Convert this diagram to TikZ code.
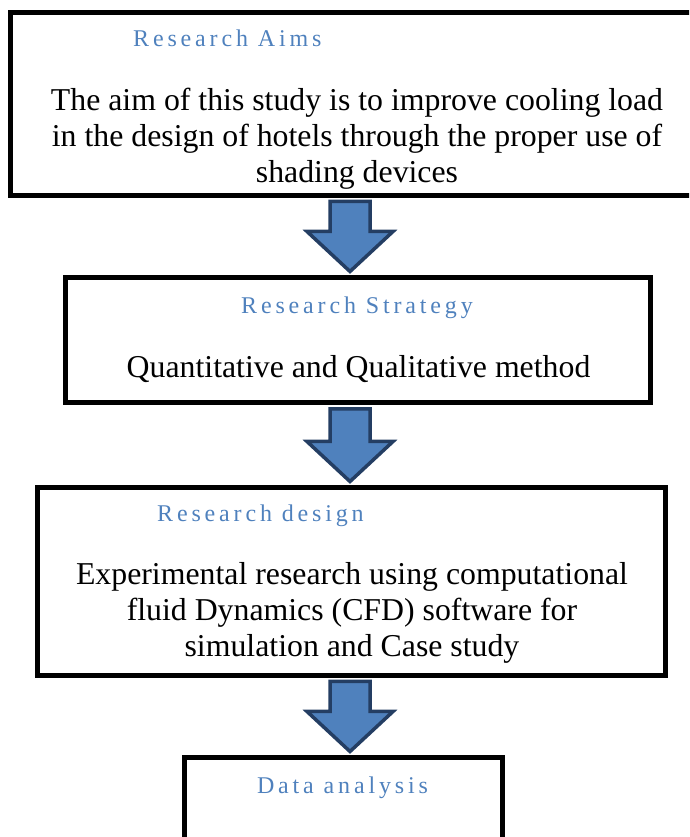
\documentclass[tikz,border=0pt]{standalone}
\usepackage{fontspec}
\setmainfont{Liberation Serif}
\usetikzlibrary{positioning, calc}
\definecolor{headblue}{RGB}{79,129,189}
\definecolor{arrowfill}{RGB}{79,129,189}
\definecolor{arrowedge}{RGB}{36,62,99}

% block arrow from the bottom of one box to the top of the next
\newcommand{\flowarrow}[2]{%
  \draw[blockarrow] let \p1=(#1.south), \p2=(#2.north) in
    (330,\y1-6) -- (370,\y1-6) -- (370,\y2+46) -- (393,\y2+46)
    -- (350,\y2+6) -- (307,\y2+46) -- (330,\y2+46) -- cycle;}

\begin{document}
\begin{tikzpicture}[
    x=1pt, y=1pt,
    box/.style={draw, line width=5, outer sep=0, inner sep=0, anchor=north west},
    heading/.style={text=headblue, inner sep=0,
      font=\fontsize{24}{28}\selectfont\addfontfeature{LetterSpace=16}},
    body/.style={inner sep=0, align=center, anchor=base,
      font=\fontsize{31.8}{36}\selectfont},
    blockarrow/.style={fill=arrowfill, draw=arrowedge, line width=3.5, line join=miter},
]
\useasboundingbox (0,0) rectangle (689,837);
\clip (0,0) rectangle (689,837);

% boxes (top one runs off the right edge, bottom one off the lower edge)
\node[box, minimum width=689.5, minimum height=183] (aims) at (10.5,824.5) {};
\node[box, minimum width=585.5, minimum height=125.5] (strategy) at (65,559.5) {};
\node[box, minimum width=628.5, minimum height=188] (design) at (37,349.5) {};
\node[box, minimum width=318, minimum height=150] (analysis) at (184.5,79.5) {};

% headings
\node[heading, anchor=base west] (aimshead) at ($(aims.north west)+(122.5,-34.5)$) {Research Aims};
\node[heading, anchor=base] (strategyhead) at ($(strategy.north)+(-0.75,-36.5)$) {Research Strategy};
\node[heading, anchor=base west] (designhead) at ($(design.north west)+(120,-34.5)$) {Research design};
\node[heading, anchor=base] (analysishead) at ($(analysis.north)+(-1,-36.5)$) {Data analysis};

% box texts (base anchor sits on the last line)
\node[body] (aimstext) at ($(aims.north)+(1.75,-170.5)$)
  {The aim of this study is to improve cooling load\\in the design of hotels through the proper use of\\shading devices};
\node[body] (strategytext) at ($(strategy.north)+(0.75,-100)$)
  {Quantitative and Qualitative method};
\node[body] (designtext) at ($(design.north)+(0.75,-169.5)$)
  {Experimental research using computational\\fluid Dynamics (CFD) software for\\simulation and Case study};

% arrows
\flowarrow{aims}{strategy}
\flowarrow{strategy}{design}
\flowarrow{design}{analysis}

\end{tikzpicture}
\end{document}
